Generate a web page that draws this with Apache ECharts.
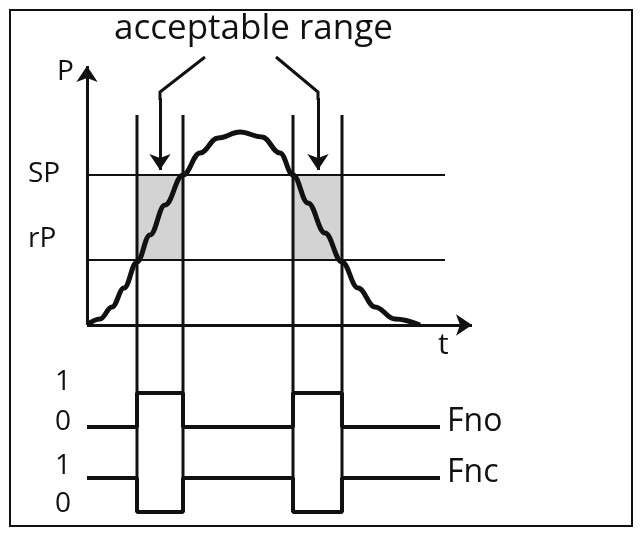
<!DOCTYPE html>
<html>
<head>
<meta charset="UTF-8">
<script src="https://cdn.jsdelivr.net/npm/echarts@6/dist/echarts.min.js"></script>
<style>html,body{margin:0;padding:0;background:#fff}#c{width:643px;height:535px}</style>
</head>
<body>
<div id="c"></div>
<script>
// diagram coordinates (x to the right, y downward)
var curve = [[87,325],[100,319],[112,307],[124,288],[137,262],[150,235],[165,205],[183,175],[200,153],[218,138],[240,132],[262,137],[280,153],[293,175],[308,203],[325,233],[342,262],[358,288],[375,307],[395,319],[420,325]];
var fno = [[87,427],[137,427],[137,393],[183,393],[183,427],[293,427],[293,393],[342,393],[342,427],[440,427]];
var fnc = [[87,478],[137,478],[137,512],[183,512],[183,478],[293,478],[293,512],[342,512],[342,478],[440,478]];
var edges = [137, 183, 293, 342];
var spY = 175, rpY = 260;
var levels = [{name:'SP', y:spY}, {name:'rP', y:rpY}];
var arrowBends = [[[205,57],[160,92],[160,100]], [[276,57],[318,92],[318,100]]];
var arrowShafts = [[[160,98],[160,170]], [[318,98],[318,170]]];

var black = '#111';
var series = [];
levels.forEach(function (l) {
  series.push({type:'line', data:[[87,l.y],[445,l.y]], symbol:'none', lineStyle:{color:black,width:2}, silent:true});
});
edges.forEach(function (x) {
  series.push({type:'line', data:[[x,115],[x,512]], symbol:'none', lineStyle:{color:black,width:3}, silent:true});
});
series.push({type:'line', data:[], markArea:{silent:true, itemStyle:{color:'#d3d3d3'},
  data:[[{coord:[edges[0],spY]},{coord:[edges[1],rpY]}],[{coord:[edges[2],spY]},{coord:[edges[3],rpY]}]]}});
// axes with arrows
series.push({type:'lines', coordinateSystem:'cartesian2d', symbol:['none','arrow'], symbolSize:16,
  lineStyle:{color:black,width:3,opacity:1},
  data:[{coords:[[87,325],[87,66]]},{coords:[[87,325],[472,325]]}].concat(arrowShafts.map(function (p) { return {coords:p}; }))});
// annotation arrow bends
series.push({type:'lines', coordinateSystem:'cartesian2d', polyline:true, symbol:'none',
  lineStyle:{color:black,width:3,opacity:1},
  data:arrowBends.map(function (p) { return {coords:p}; })});
series.push({type:'line', data:curve, smooth:0.4, smoothMonotone:'x', symbol:'none', lineStyle:{color:black,width:5}, z:5});
series.push({type:'line', data:fno, symbol:'none', lineStyle:{color:black,width:4}, z:5});
series.push({type:'line', data:fnc, symbol:'none', lineStyle:{color:black,width:4}, z:5});

function txt(s, x, y, size) {
  return {type:'text', left:x, top:y, style:{text:s, font:size+'px "Open Sans", sans-serif', fill:black}};
}

var chart = echarts.init(document.getElementById('c'));
chart.setOption({
  animation:false,
  grid:{left:0, top:0, width:643, height:535},
  xAxis:{type:'value', min:0, max:643, show:false},
  yAxis:{type:'value', min:0, max:535, inverse:true, show:false},
  graphic:[
    {type:'rect', shape:{x:10, y:10, width:622, height:516}, style:{fill:'none', stroke:black, lineWidth:2}},
    txt('acceptable range', 114, 12, 35),
    txt('P', 57, 58, 28),
    txt('SP', 28, 160, 28),
    txt('rP', 28, 225, 28),
    txt('t', 438, 330, 30),
    txt('1', 55, 368, 28),
    txt('0', 55, 408, 28),
    txt('1', 55, 452, 28),
    txt('0', 55, 490, 28),
    txt('Fno', 447, 406, 32),
    txt('Fnc', 447, 457, 32)
  ],
  series:series
});
</script>
</body>
</html>
